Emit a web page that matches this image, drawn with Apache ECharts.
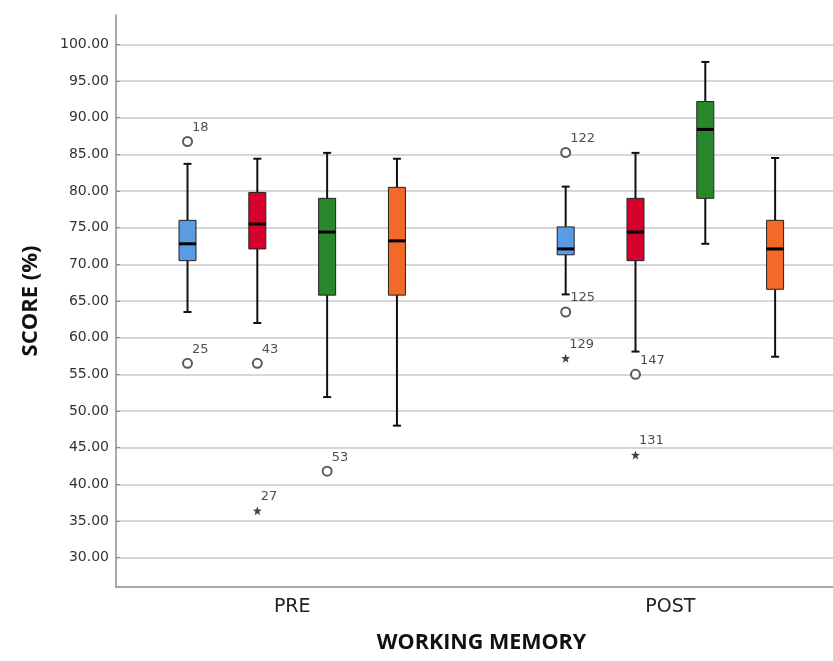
<!DOCTYPE html>
<html><head><meta charset="utf-8">
<script src="https://cdn.jsdelivr.net/npm/echarts@6/dist/echarts.min.js"></script>
<style>html,body{margin:0;padding:0;background:#fff}#c{width:833px;height:661px}</style>
</head><body><div id="c"></div>
<script>
// ---- data ----
const categories = ['PRE', 'POST'];
const yTicks = [30, 35, 40, 45, 50, 55, 60, 65, 70, 75, 80, 85, 90, 95, 100];
// [low whisker, Q1, median, Q3, high whisker] for PRE, POST
const blueBox   = [[63.5, 70.5, 72.8, 76.0, 83.7], [65.9, 71.3, 72.1, 75.1, 80.6]];
const redBox    = [[62.0, 72.1, 75.5, 79.8, 84.4], [58.1, 70.5, 74.4, 79.0, 85.2]];
const greenBox  = [[51.9, 65.8, 74.4, 79.0, 85.2], [72.8, 79.0, 88.4, 92.2, 97.6]];
const orangeBox = [[48.0, 65.8, 73.2, 80.5, 84.4], [57.4, 66.6, 72.1, 76.0, 84.5]];
// outliers: [category index, box index, value, case label]
const outliers = [[0, 0, 86.75, '18'], [0, 0, 56.5, '25'], [0, 1, 56.5, '43'], [0, 2, 41.8, '53'],
                  [1, 0, 85.25, '122'], [1, 0, 63.5, '125'], [1, 1, 55.0, '147']];
const extremes = [[0, 1, 36.4, '27'], [1, 0, 57.2, '129'], [1, 1, 44.0, '131']];

// ---- style / layout ----
const boxes = [blueBox, redBox, greenBox, orangeBox];
const colors = ['#5b9be4', '#d6002f', '#2a872c', '#f26a28'];
const SLOT = 0.1846;   // spacing of boxes inside a category, in category units
const BOX_W = 17, CAP_W = 8;
const starPath = 'path://M0,-10L2.35,-3.24L9.51,-3.09L3.8,1.24L5.88,8.09L0,4L-5.88,8.09L-3.8,1.24L-9.51,-3.09L-2.35,-3.24Z';

function boxSeries(k) {
  return {
    type: 'custom',
    data: boxes[k].map((b, i) => [i].concat(b)),
    encode: { x: 0, y: [1, 2, 3, 4, 5] },
    z: 3,
    renderItem(params, api) {
      const x = api.value(0) + SLOT * (k - 1.5);
      const lo = api.coord([x, api.value(1)]);
      const q1 = api.coord([x, api.value(2)]);
      const md = api.coord([x, api.value(3)]);
      const q3 = api.coord([x, api.value(4)]);
      const hi = api.coord([x, api.value(5)]);
      const cx = lo[0], hw = BOX_W / 2, cw = CAP_W / 2;
      const ls = { stroke: '#111', lineWidth: 2 };
      return { type: 'group', children: [
        { type: 'line', shape: { x1: cx, y1: hi[1], x2: cx, y2: q3[1] }, style: ls },
        { type: 'line', shape: { x1: cx, y1: q1[1], x2: cx, y2: lo[1] }, style: ls },
        { type: 'line', shape: { x1: cx - cw, y1: hi[1], x2: cx + cw, y2: hi[1] }, style: ls },
        { type: 'line', shape: { x1: cx - cw, y1: lo[1], x2: cx + cw, y2: lo[1] }, style: ls },
        { type: 'rect', shape: { x: cx - hw, y: q3[1], width: 2 * hw, height: q1[1] - q3[1] },
          style: { fill: colors[k], stroke: '#222', lineWidth: 1 } },
        { type: 'line', shape: { x1: cx - hw, y1: md[1], x2: cx + hw, y2: md[1] },
          style: { stroke: '#000', lineWidth: 3 } }
      ]};
    }
  };
}

function pointSeries(list, symbol, size, filled) {
  return {
    type: 'scatter',
    symbol: symbol,
    symbolSize: size,
    z: 4,
    itemStyle: filled ? { color: '#111' } : { color: '#333', borderColor: '#333', borderWidth: 1.3 },
    label: { show: true, position: 'right', distance: 0, offset: [-1, -14],
             formatter: p => p.value[2], color: '#222', fontSize: 13, fontFamily: 'DejaVu Sans' },
    data: list.map(o => [o[0] + SLOT * (o[1] - 1.5), o[2], o[3]])
  };
}

const chart = echarts.init(document.getElementById('c'), null, { renderer: 'canvas' });
chart.setOption({
  animation: false,
  backgroundColor: '#fff',
  grid: { left: 116, right: 0, top: 15, bottom: 74 },
  xAxis: {
    type: 'value', min: -0.466, max: 1.43,
    axisLine: { show: true, onZero: false, lineStyle: { color: '#8c8c8c', width: 1.5 } },
    axisTick: { show: false },
    splitLine: { show: false },
    axisLabel: { customValues: [0, 1], formatter: v => categories[Math.round(v)] || '',
                 fontSize: 19, color: '#222', fontFamily: 'DejaVu Sans', margin: 11 },
    name: 'WORKING MEMORY', nameLocation: 'middle', nameGap: 45,
    nameTextStyle: { fontSize: 21.5, fontWeight: 'bold', color: '#111', fontFamily: 'Open Sans', padding: [0, 0, 0, 14] }
  },
  yAxis: {
    type: 'value', min: 26, max: 104,
    axisLine: { show: true, onZero: false, lineStyle: { color: '#8c8c8c', width: 1.5 } },
    axisTick: { show: true, inside: true, length: 4, customValues: yTicks, lineStyle: { color: '#8c8c8c' } },
    splitLine: { show: true, lineStyle: { color: '#c9c9c9', width: 1.5 } },
    axisLabel: { customValues: yTicks, formatter: v => v.toFixed(2), fontSize: 14, color: '#333',
                 fontFamily: 'DejaVu Sans', margin: 7 },
    name: 'SCORE (%)', nameLocation: 'middle', nameGap: 74, nameRotate: 90,
    nameTextStyle: { fontSize: 22, fontWeight: 'bold', color: '#111', fontFamily: 'Open Sans' }
  },
  series: [0, 1, 2, 3].map(boxSeries).concat([
    pointSeries(outliers, 'emptyCircle', 9, false),
    pointSeries(extremes, starPath, 9, true)
  ])
});
</script></body></html>
